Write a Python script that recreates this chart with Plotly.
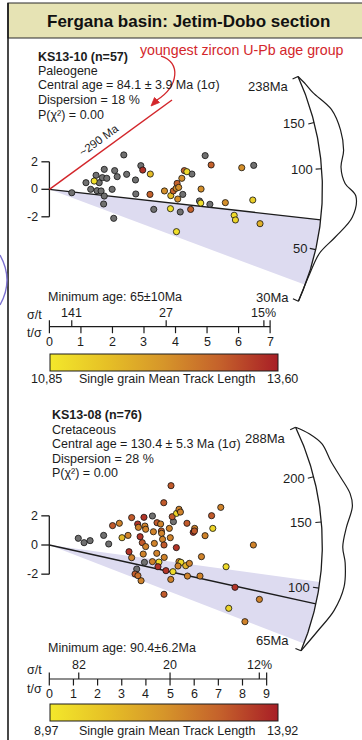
import math
import numpy as np
import plotly.graph_objects as go

W, H = 362, 740
FONT = "Liberation Sans, Arial, sans-serif"
INK = "#1c1c1c"
RED = "#d3262b"
GREY = "#707070"
SHADE = "rgb(221,219,240)"
MTL_SCALE = [[0.0, "#f3e82b"], [0.25, "#e6c026"], [0.5, "#d6952a"],
             [0.75, "#c4602b"], [1.0, "#a81e26"]]

# ---------------- KS13-10 (Paleogene) ----------------
ks10_prec = [0.71, 1.16, 1.31, 1.42, 1.48, 1.51, 1.58, 1.64, 1.68, 1.74, 1.74, 1.72,
             1.82, 1.99, 2.04, 2.07, 2.15, 2.36, 2.45, 2.73, 2.74, 2.90, 2.96, 3.20,
             3.19, 3.31, 3.65, 3.85, 3.84, 3.93, 4.02, 4.05, 4.10, 4.20, 4.07, 4.15,
             4.23, 4.28, 4.36, 4.52, 4.48, 4.03, 4.81, 4.76, 4.80, 4.94, 5.13, 5.09,
             5.58, 5.86, 5.90, 6.10, 6.48, 6.45, 6.68]
ks10_z = [-0.25, 0.48, 0.00, 0.60, 1.02, -0.10, 0.48, -0.12, 0.85, 1.45, -0.49, -1.07,
          0.80, 0.00, -2.11, 1.36, 0.92, 2.50, 1.09, 0.68, -0.34, 1.72, 1.40, 1.11,
          -0.37, -1.46, -0.12, -0.46, -1.41, -0.12, 0.07, 0.43, 0.14, 0.80, -0.71, -1.65,
          -0.37, 1.36, 1.28, 1.11, -1.46, -3.08, 0.02, -0.85, -1.00, 2.45, 1.77, -1.09,
          -0.97, -1.89, -2.23, 1.57, 1.74, -0.78, -2.50]
ks10_mtl = [None, None, None, 11.0, None, None, None, None, None, None, None, None,
            None, None, None, None, None, None, None, None, None, None, 13.4, 11.6,
            12.9, None, 12.3, 11.6, 11.0, 12.9, 12.3, 12.9, 12.3, 12.3, 12.3, None,
            None, 12.9, 11.1, None, 12.9, 11.0, 12.3, None, 11.0, None, 12.9, None,
            12.3, 11.1, 11.2, 12.3, None, 11.3, 11.8]
ks10_info = ["KS13-10 (n=57)", "Paleogene", "Central age = 84.1 ± 3.9 Ma (1σ)",
             "Dispersion = 18 %", "P(χ²) = 0.00"]
ks10_central = 84.1
ks10_age_span = (30, 238)
ks10_min_age = 65.0
ks10_min_label = "Minimum age: 65±10Ma"
ks10_shade = (35.7, 65.0)
ks10_arc_ticks = [50, 100, 150]
ks10_kde_age = [238, 215, 195, 161, 134, 114, 100, 88, 80, 68, 57.5, 49, 40, 30]
ks10_kde_dens = [0.0, 0.12, 0.23, 0.60, 0.72, 0.71, 0.58, 0.68, 1.0, 0.93, 0.51, 0.14, 0.02, 0.0]
ks10_prec_ticks = [0, 1, 2, 3, 4, 5, 6, 7]
ks10_rel_err_ticks = [141, 27, 14.7]
ks10_mtl_range = (10.85, 13.60)
ks10_mtl_labels = ("10,85", "13,60")

# ---------------- KS13-08 (Cretaceous) ----------------
ks08_prec = [1.20, 1.44, 1.69, 2.25, 2.46, 2.62, 2.90, 3.01, 3.26, 3.41, 3.30, 3.41,
             3.66, 3.69, 3.76, 3.85, 3.92, 3.96, 3.99, 3.99, 3.94, 3.89, 4.27, 4.31,
             4.35, 4.46, 4.45, 4.27, 4.54, 4.61, 4.64, 4.65, 4.69, 4.75, 4.76, 4.50,
             4.74, 4.83, 4.97, 5.01, 5.09, 5.12, 5.14, 5.27, 5.37, 5.43, 5.26, 5.03,
             5.37, 5.45, 5.33, 5.70, 5.65, 5.72, 5.80, 5.96, 6.02, 6.01, 6.24, 6.30,
             6.45, 6.72, 6.77, 7.10, 7.32, 4.75, 3.55, 3.62, 3.80, 7.69, 8.45, 8.70,
             7.43, 8.10, 5.04, 3.67]
ks08_z = [0.46, 0.16, 0.30, 0.66, 0.07, 1.33, 1.49, 0.50, 0.66, 1.88, -0.46, -0.87,
          1.44, 1.21, 0.57, 0.16, 1.90, 1.30, 1.08, -0.11, -1.19, -0.62, 1.99, 0.91,
          0.11, 1.53, -0.57, -1.14, -1.17, 1.44, 0.96, 0.80, 0.39, 0.00, -0.85, -1.49,
          2.90, -1.76, 1.14, 0.50, 1.94, -1.83, 1.60, 2.17, 2.45, 2.26, -0.18, -2.36,
          -1.14, -1.19, -1.44, 1.49, -1.42, -2.13, -1.26, 0.87, 1.14, 0.96, -2.13, -0.80,
          0.64, 2.01, 1.14, 2.58, -1.49, -3.38, -1.99, -1.65, -2.45, -2.90, 0.00, -3.73,
          -4.34, -5.26, 4.07, -2.10]
ks08_mtl = [None, None, None, None, None, 12.8, 11.9, 10.4, 11.9, 12.8, 13.5, 11.9,
            13.5, 11.9, 13.5, 12.8, 13.5, 11.9, 11.9, 11.9, None, 11.9, None, 11.9,
            11.9, 12.8, 11.9, 11.9, 9.4, 11.9, 12.8, 11.9, 11.9, 12.8, 11.9, 13.5,
            12.8, 13.5, 11.9, 11.9, 12.8, 9.4, None, 9.6, 11.9, 11.9, 13.5, 11.9,
            11.9, 9.5, 11.9, 12.8, 10.6, 11.9, 11.9, 13.5, 11.9, 12.8, 11.9, 11.9,
            11.9, 12.8, 9.6, 11.9, 9.4, 12.8, 12.8, None, 11.9, 13.5, 11.9, 11.9,
            9.6, 11.9, 12.8, 12.3]
ks08_info = ["KS13-08 (n=76)", "Cretaceous", "Central age = 130.4 ± 5.3 Ma (1σ)",
             "Dispersion = 28 %", "P(χ²) = 0.00"]
ks08_central = 130.4
ks08_age_span = (65, 288)
ks08_min_age = 90.4
ks08_min_label = "Minimum age: 90.4±6.2Ma"
ks08_shade = (68.7, 104.0)
ks08_arc_ticks = [100, 150, 200]
ks08_kde_age = [288, 265, 241, 213, 192, 173, 161, 144, 129, 118, 103, 89, 77, 65]
ks08_kde_dens = [0.0, 0.30, 0.55, 0.64, 0.80, 0.99, 1.0, 0.76, 0.63, 0.72, 0.76, 0.59, 0.28, 0.0]
ks08_prec_ticks = [0, 1, 2, 3, 4, 5, 6, 7, 8, 9]
ks08_rel_err_ticks = [82, 20, 11.5]
ks08_mtl_range = (8.97, 13.92)
ks08_mtl_labels = ("8,97", "13,92")

# screen layout of each radial plot (origin in px, px per unit, arc radius, rows)
panels = [
    dict(ax="", prec=ks10_prec, z=ks10_z, mtl=ks10_mtl, info=ks10_info, central=ks10_central,
         span=ks10_age_span, min_age=ks10_min_age, min_label=ks10_min_label, shade=ks10_shade,
         arc_ticks=ks10_arc_ticks, kde_age=ks10_kde_age, kde_dens=ks10_kde_dens,
         prec_ticks=ks10_prec_ticks, rel_ticks=ks10_rel_err_ticks, mtl_range=ks10_mtl_range,
         mtl_labels=ks10_mtl_labels,
         ox=49.4, oy=189.3, sx=31.53, sy=13.75, R=273, kde_h=33.5,
         info_x=35.7, info_y=56.5, min_y=296.7, axis_y=326.7, sig_lab=(34.7, 315), ts_lab=(34.3, 333.3),
         cbar_y=354, cbar_lab_y=379,
         end_shift=((-2, -8), (-2, 1))),
    dict(ax="2", prec=ks08_prec, z=ks08_z, mtl=ks08_mtl, info=ks08_info, central=ks08_central,
         span=ks08_age_span, min_age=ks08_min_age, min_label=ks08_min_label, shade=ks08_shade,
         arc_ticks=ks08_arc_ticks, kde_age=ks08_kde_age, kde_dens=ks08_kde_dens,
         prec_ticks=ks08_prec_ticks, rel_ticks=ks08_rel_err_ticks, mtl_range=ks08_mtl_range,
         mtl_labels=ks08_mtl_labels,
         ox=49.3, oy=545.0, sx=24.15, sy=14.58, R=273, kde_h=32.5,
         info_x=50.0, info_y=415.0, min_y=648.3, axis_y=679.0, sig_lab=(34.7, 670), ts_lab=(34.0, 689.3),
         cbar_y=704, cbar_lab_y=730.7,
         end_shift=((-2, -9), (-4, 8))),
]

fig = go.Figure()
shapes, annos = [], []


def pap(px, py):
    return px / W, 1 - py / H


def text(s, px, py, size=12.5, xanchor="left", color=INK, angle=0, bold=False):
    x, y = pap(px, py)
    if bold:
        s = "<b>" + s + "</b>"
    annos.append(dict(text=s, x=x, y=y, xref="paper", yref="paper", showarrow=False,
                      xanchor=xanchor, yanchor="middle", textangle=angle,
                      font=dict(family=FONT, size=size, color=color)))


for p in panels:
    xr, yr = "x" + p["ax"], "y" + p["ax"]
    sx, sy, R = p["sx"], p["sy"], p["R"]
    k = sy / sx
    z0 = math.log(p["central"])

    fig.update_layout(**{
        "xaxis" + p["ax"]: dict(domain=[0, 1], range=[-p["ox"] / sx, (W - p["ox"]) / sx],
                                visible=False, anchor=yr),
        "yaxis" + p["ax"]: dict(domain=[0, 1], range=[(p["oy"] - H) / sy, p["oy"] / sy],
                                visible=False, anchor=xr),
    })

    def theta(age):
        return math.atan(k * (math.log(age) - z0))

    def polar(th, r):
        return r * math.cos(th) / sx, r * math.sin(th) / sy

    t_lo, t_hi = p["span"]
    th_lo, th_hi = theta(t_lo), theta(t_hi)

    # shaded wedge
    s_lo, s_hi = theta(p["shade"][0]), theta(p["shade"][1])
    ths = np.linspace(s_hi, s_lo, 40)
    wx = [0] + [polar(t, R)[0] for t in ths] + [0]
    wy = [0] + [polar(t, R)[1] for t in ths] + [0]
    fig.add_trace(go.Scatter(x=wx, y=wy, xaxis=xr, yaxis=yr, mode="lines", fill="toself",
                             fillcolor=SHADE, line=dict(width=0), hoverinfo="skip",
                             showlegend=False))

    # minimum-age line
    ex, ey = polar(theta(p["min_age"]), R)
    fig.add_trace(go.Scatter(x=[0, ex], y=[0, ey], xaxis=xr, yaxis=yr, mode="lines",
                             line=dict(color=INK, width=1.3), hoverinfo="skip", showlegend=False))

    # age arc
    tha = np.linspace(th_hi, th_lo, 160)
    fig.add_trace(go.Scatter(x=[polar(t, R)[0] for t in tha], y=[polar(t, R)[1] for t in tha],
                             xaxis=xr, yaxis=yr, mode="lines", line=dict(color=INK, width=1.3),
                             hoverinfo="skip", showlegend=False))

    # density curve hung outside the arc
    kx, ky = [], []
    for a, d in zip(p["kde_age"], p["kde_dens"]):
        x_, y_ = polar(theta(a), R + p["kde_h"] * d)
        kx.append(x_)
        ky.append(y_)
    fig.add_trace(go.Scatter(x=kx, y=ky, xaxis=xr, yaxis=yr, mode="lines",
                             line=dict(color=INK, width=1.2, shape="spline", smoothing=1.0),
                             hoverinfo="skip", showlegend=False))

    # arc ticks and labels
    for a in p["arc_ticks"]:
        th = theta(a)
        x0, y0 = polar(th, R - 6)
        x1, y1 = polar(th, R)
        shapes.append(dict(type="line", xref=xr, yref=yr, x0=x0, y0=y0, x1=x1, y1=y1,
                           line=dict(color=INK, width=1.2)))
        annos.append(dict(text=str(a), x=x0, y=y0, xref=xr, yref=yr, showarrow=False,
                          xanchor="right", yanchor="middle", xshift=-1,
                          font=dict(family=FONT, size=13, color=INK)))
    for a, (dx, dy) in zip((t_hi, t_lo), p["end_shift"]):
        th = theta(a)
        x0, y0 = polar(th, R - 6)
        x1, y1 = polar(th, R)
        shapes.append(dict(type="line", xref=xr, yref=yr, x0=x0, y0=y0, x1=x1, y1=y1,
                           line=dict(color=INK, width=1.2)))
        annos.append(dict(text=f"{a}Ma", x=x0, y=y0, xref=xr, yref=yr, showarrow=False,
                          xanchor="right", yanchor="middle", xshift=dx, yshift=dy,
                          font=dict(family=FONT, size=13, color=INK)))

    # standardised-estimate bracket
    tick = 8 / sx
    shapes.append(dict(type="line", xref=xr, yref=yr, x0=0, y0=-2, x1=0, y1=2,
                       line=dict(color=INK, width=1.3)))
    for v in (-2, 0, 2):
        shapes.append(dict(type="line", xref=xr, yref=yr, x0=-tick, y0=v, x1=0, y1=v,
                           line=dict(color=INK, width=1.3)))
        annos.append(dict(text=str(v), x=-tick, y=v, xref=xr, yref=yr, showarrow=False,
                          xanchor="right", yanchor="middle", xshift=-1,
                          font=dict(family=FONT, size=12.5, color=INK)))

    # grains: no length measured (grey) and coloured by mean track length
    prec = np.array(p["prec"], float)
    zz = np.array(p["z"], float)
    mtl = np.array([np.nan if m is None else m for m in p["mtl"]], float)
    nol = np.isnan(mtl)
    fig.add_trace(go.Scatter(x=prec[nol], y=zz[nol], xaxis=xr, yaxis=yr, mode="markers",
                             marker=dict(size=6.2, color=GREY, line=dict(color="#111", width=0.8)),
                             hoverinfo="skip", showlegend=False))
    lo, hi = p["mtl_range"]
    cy = p["cbar_y"]
    fig.add_trace(go.Scatter(
        x=prec[~nol], y=zz[~nol], xaxis=xr, yaxis=yr, mode="markers", showlegend=False,
        hoverinfo="skip",
        marker=dict(size=6.2, color=mtl[~nol], colorscale=MTL_SCALE, cmin=lo, cmax=hi,
                    line=dict(color="#111", width=0.8), showscale=True,
                    colorbar=dict(orientation="h", x=50 / W, xanchor="left", y=1 - cy / H,
                                  yanchor="top", len=228, lenmode="pixels", thickness=16.5,
                                  thicknessmode="pixels", outlinewidth=1, outlinecolor=INK,
                                  xpad=0, ypad=0, showticklabels=False, ticks=""))))

    # precision axis with relative-error ticks above
    ay = 1 - p["axis_y"] / H
    up = 6.5 / H
    pmax = p["prec_ticks"][-1]
    shapes.append(dict(type="line", xref=xr, yref="paper", x0=0, x1=pmax, y0=ay, y1=ay,
                       line=dict(color=INK, width=1.2)))
    for t in p["prec_ticks"]:
        top = ay + up if t in (0, pmax) else ay
        shapes.append(dict(type="line", xref=xr, yref="paper", x0=t, x1=t, y0=ay - up, y1=top,
                           line=dict(color=INK, width=1.2)))
        annos.append(dict(text=str(t), x=t, y=ay - 15 / H, xref=xr, yref="paper",
                          showarrow=False, xanchor="center", yanchor="middle",
                          font=dict(family=FONT, size=12.5, color=INK)))
    for i, pct in enumerate(p["rel_ticks"]):
        xt = 100.0 / pct
        shapes.append(dict(type="line", xref=xr, yref="paper", x0=xt, x1=xt, y0=ay, y1=ay + up,
                           line=dict(color=INK, width=1.2)))
        lab = f"{pct:.0f}" + ("%" if i == len(p["rel_ticks"]) - 1 else "")
        annos.append(dict(text=lab, x=xt, y=ay + 14 / H, xref=xr, yref="paper",
                          showarrow=False, xanchor="center", yanchor="middle",
                          font=dict(family=FONT, size=12.5, color=INK)))
    text("σ/t", *p["sig_lab"], xanchor="center")
    text("t/σ", *p["ts_lab"], xanchor="center")

    # sample statistics
    for i, line in enumerate(p["info"]):
        text(line, p["info_x"], p["info_y"] + 14.5 * i, bold=(i == 0))
    text(p["min_label"], 45.7, p["min_y"])

    # colour-bar captions
    text(p["mtl_labels"][0], 46, p["cbar_lab_y"], xanchor="center")
    text(p["mtl_labels"][1], 282, p["cbar_lab_y"], xanchor="center")
    text("Single grain Mean Track Length", 167, p["cbar_lab_y"], xanchor="center")

# header band and frame
shapes.insert(0, dict(type="rect", xref="paper", yref="paper", x0=8 / W, x1=1 + 3 / W,
                      y0=1 - 38 / H, y1=1 - 3 / H, fillcolor="#e6e3b4",
                      line=dict(color="#2a2a2a", width=1.2), layer="below"))
shapes.append(dict(type="line", xref="paper", yref="paper", x0=8 / W, x1=8 / W, y0=0,
                   y1=1 - 3 / H, line=dict(color="#1a1a1a", width=1.6)))
text("Fergana basin: Jetim-Dobo section", 188, 21, size=17, xanchor="center", bold=True,
     color="#111")

# neighbouring panel edge
def path(pts, close=False):
    s = ""
    for i, (cmd, xy) in enumerate(pts):
        s += cmd + " " + " ".join(f"{a / W:.5f},{1 - b / H:.5f}" for a, b in xy) + " "
    return s + ("Z" if close else "")

shapes.append(dict(type="path", xref="paper", yref="paper",
                   path=path([("M", [(0, 255)]), ("Q", [(14, 280), (0, 305)])]),
                   line=dict(color="#7b70cf", width=1.4)))

# youngest zircon U-Pb annotation
text("youngest zircon U-Pb age group", 241.7, 50, size=14.2, xanchor="center", color=RED)
shapes.append(dict(type="path", xref="paper", yref="paper",
                   path=path([("M", [(161, 56)]), ("C", [(181, 62), (179, 86), (157, 100)])]),
                   line=dict(color=RED, width=1.3)))
shapes.append(dict(type="path", xref="paper", yref="paper",
                   path=path([("M", [(151, 106)]), ("L", [(159.5, 102.5)]), ("L", [(154.5, 97.5)])], close=True),
                   fillcolor=RED, line=dict(color=RED, width=0.8)))
p1 = panels[0]
shapes.append(dict(type="line", xref="x", yref="y", x0=0, y0=0,
                   x1=(172 - p1["ox"]) / p1["sx"], y1=(p1["oy"] - 100) / p1["sy"],
                   line=dict(color=RED, width=1.5)))
text("~290 Ma", 99, 140, size=11.5, xanchor="center", angle=-36)

fig.update_layout(width=W, height=H, autosize=False, margin=dict(l=0, r=0, t=0, b=0, pad=0),
                  paper_bgcolor="white", plot_bgcolor="rgba(0,0,0,0)",
                  shapes=shapes, annotations=annos, showlegend=False)

fig.write_html("out.html")
